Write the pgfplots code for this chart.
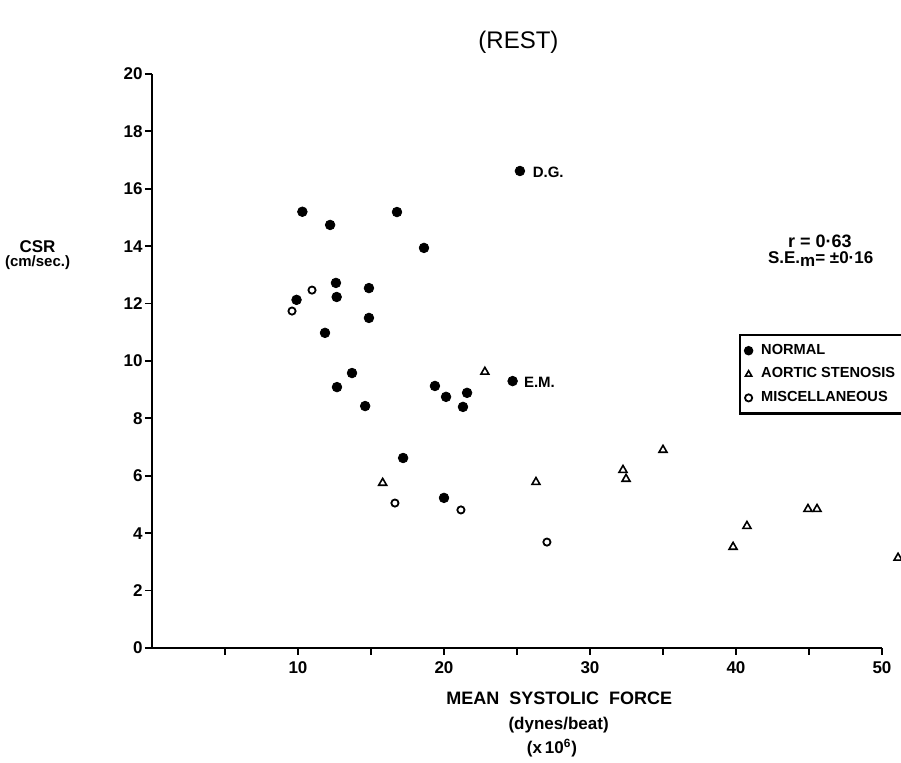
\documentclass[border=0pt]{standalone}
\usepackage{fontspec}
\setmainfont{Liberation Sans}
\usepackage{pgfplots}
\pgfplotsset{compat=1.18}

\begin{document}
\begin{tikzpicture}
\begin{axis}[
  scale only axis,
  width=365pt, height=287pt,
  xmin=0, xmax=50, ymin=0, ymax=20,
  axis lines=left,
  axis line style={-, line width=1pt},
  clip=false,
  xtick={10,20,30,40,50},
  minor xtick={5,15,25,35,45},
  ytick={0,2,...,20},
  tick align=outside,
  major tick length=3.5pt, minor tick length=3.5pt,
  tick style={line width=0.9pt, black},
  ticklabel style={font=\bfseries\fontsize{8.5}{10}\selectfont},
  yticklabel style={inner xsep=1pt},
  /pgf/number format/assume math mode=true,
  legend style={at={(axis cs:40.2,10.94)}, anchor=north west,
    draw=black, line width=1.1pt, inner sep=2.5pt,
    font=\bfseries\fontsize{7.3}{9}\selectfont,
    row sep=1.2pt, cells={anchor=west},
    /tikz/every odd column/.append style={column sep=2.5pt}},
  legend cell align=left,
  legend image post style={mark size=1.8pt},
]
% normal
\addplot[only marks, mark=*, mark size=2.4pt, black] coordinates {
  (9.9,12.13) (10.3,15.2) (12.2,14.74) (12.6,12.72) (12.65,12.23)
  (14.86,12.54) (14.86,11.5) (11.85,10.98) (16.78,15.19) (18.63,13.94)
  (25.2,16.62) (12.67,9.09) (13.7,9.58) (14.6,8.43) (19.38,9.13)
  (20.14,8.75) (21.58,8.89) (21.3,8.4) (24.7,9.3) (17.2,6.62) (20.0,5.23)
};
\addlegendentry{NORMAL}
% aortic stenosis
\addplot[only marks, mark=triangle, mark size=2.3pt, black, mark options={line width=0.8pt}] coordinates {
  (22.8,9.62) (15.8,5.75) (26.3,5.78) (32.26,6.2) (32.47,5.89) (35.0,6.9)
  (40.75,4.25) (39.8,3.52) (44.93,4.84) (45.55,4.84) (51.1,3.14)
};
\addlegendentry{AORTIC STENOSIS}
% miscellaneous
\addplot[only marks, mark=o, mark size=1.8pt, black, mark options={line width=0.9pt}] coordinates {
  (10.96,12.47) (9.59,11.74) (16.64,5.05) (21.16,4.81) (27.05,3.69)
};
\addlegendentry{MISCELLANEOUS}

\node[font=\fontsize{12}{13}\selectfont] at (axis cs:25.1,21.11) {(REST)};
\node[font=\bfseries\fontsize{8.5}{9}\selectfont] at (axis cs:-7.84,13.97) {CSR};
\node[font=\bfseries\fontsize{7.5}{9}\selectfont] at (axis cs:-7.84,13.41) {(cm/sec.)};
\node[font=\bfseries\fontsize{9}{10}\selectfont] at (axis cs:45.75,14.18) {r = 0·63};
\node[font=\bfseries\fontsize{8.5}{10}\selectfont] at (axis cs:45.8,13.55) {S.E.\raisebox{-0.35ex}{m}= ±0·16};
\node[anchor=west, font=\bfseries\fontsize{7.5}{9}\selectfont] at (axis cs:25.6,16.58) {D.G.};
\node[anchor=west, font=\bfseries\fontsize{7.5}{9}\selectfont] at (axis cs:25.0,9.27) {E.M.};
\node[font=\bfseries\fontsize{9}{10}\selectfont] at (axis cs:27.9,-1.74) {MEAN \ SYSTOLIC \ FORCE};
\node[font=\bfseries\fontsize{8.5}{10}\selectfont] at (axis cs:27.85,-2.68) {(dynes/beat)};
\node[font=\bfseries\fontsize{8.5}{10}\selectfont] at (axis cs:27.4,-3.48) {(x\,10\textsuperscript{6})};
\end{axis}
\pgfresetboundingbox
\path[use as bounding box] ([shift={(-76pt,-57.5pt)}]current axis.south west) rectangle ([shift={(374.5pt,324pt)}]current axis.south west);
\end{tikzpicture}
\end{document}
